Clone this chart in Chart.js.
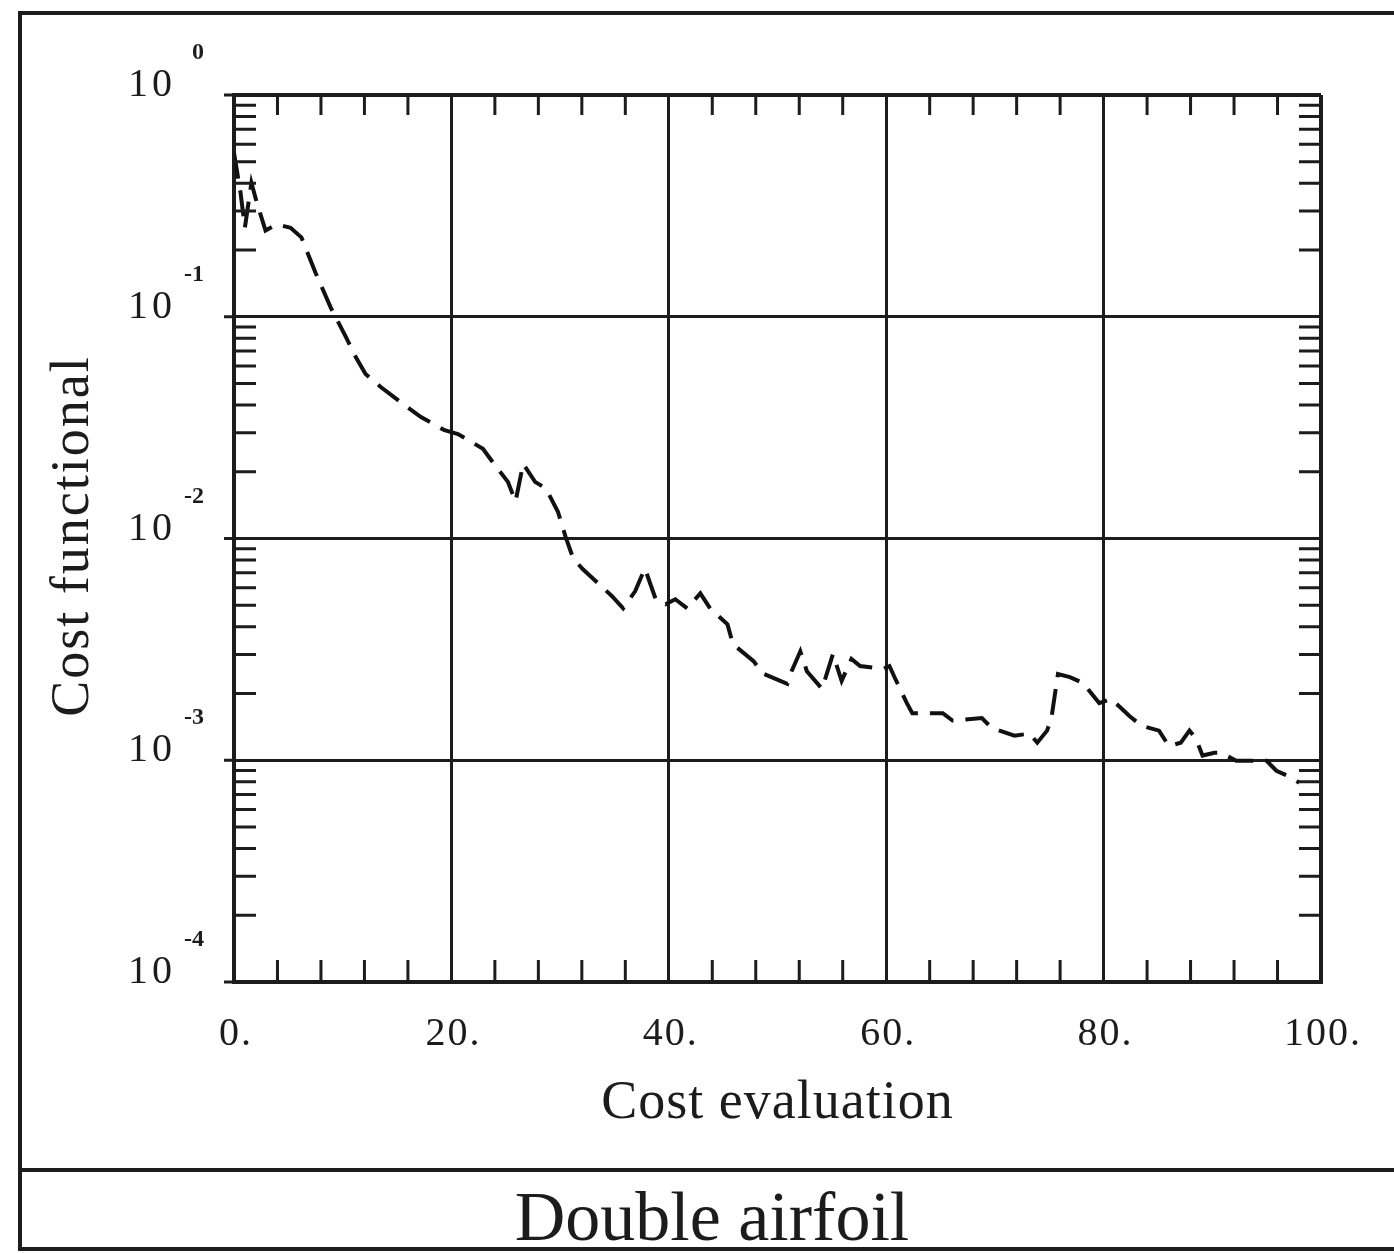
<!DOCTYPE html>
<html>
<head>
<meta charset="utf-8">
<script src="https://cdn.jsdelivr.net/npm/chart.js@4.4.1/dist/chart.umd.min.js"></script>
<style>
  html, body { margin: 0; padding: 0; background: #fff; }
  canvas { display: block; }
</style>
</head>
<body>
<canvas id="costChart" width="1394" height="1253"></canvas>
<script>
// cost evaluation number (x) and cost functional value (y)
const evalX = [0, 0.6, 1.0, 1.6, 2.1, 2.9, 3.9, 5.2, 6.2, 7.5, 8.9, 10.3, 11.2, 12.1, 13.5, 15.3,
  17.2, 19.3, 20.6, 22.9, 24.1, 25.2, 25.9, 26.6, 27.7, 28.7, 29.8, 30.5, 31.2, 32.1, 34.0, 34.8,
  35.8, 36.9, 37.8, 38.8, 39.7, 40.6, 41.7, 42.9, 43.8, 45.4, 45.9, 47.8, 48.6, 50.9, 51.3, 52.1,
  52.7, 54.1, 55.1, 55.9, 56.8, 57.6, 59.7, 60.3, 60.8, 61.9, 62.4, 65.2, 66.1, 68.8, 69.7, 71.8,
  73.2, 73.9, 74.8, 75.2, 75.8, 76.9, 78.1, 79.6, 80.7, 82.4, 83.5, 85.1, 86.0, 87.1, 87.9, 88.5,
  89.1, 90.2, 90.8, 92.2, 95.0, 95.9, 97.1, 98.0];
const costY = [0.548, 0.363, 0.252, 0.402, 0.327, 0.245, 0.261, 0.252, 0.228, 0.158, 0.110, 0.0809,
  0.0658, 0.0552, 0.0482, 0.0413, 0.0353, 0.0309, 0.0296, 0.0254, 0.0211, 0.0180, 0.0147, 0.0217,
  0.0180, 0.0168, 0.0132, 0.0102, 0.00813, 0.00726, 0.00596, 0.00548, 0.00484, 0.00578, 0.00733,
  0.00532, 0.00505, 0.00532, 0.00484, 0.00566, 0.00484, 0.00410, 0.00334, 0.00280, 0.00247,
  0.00221, 0.00252, 0.00310, 0.00252, 0.00210, 0.00301, 0.00228, 0.00286, 0.00266, 0.00258,
  0.00266, 0.00235, 0.00181, 0.00163, 0.00163, 0.00151, 0.00155, 0.00140, 0.00129, 0.00132,
  0.00120, 0.00136, 0.00155, 0.00245, 0.00237, 0.00223, 0.00181, 0.00189, 0.00158, 0.00143,
  0.00136, 0.00116, 0.00120, 0.00136, 0.00125, 0.00105, 0.00108, 0.00108, 0.000995, 0.000995,
  0.000897, 0.000843, 0.000792];

const xTicks = [0, 20, 40, 60, 80, 100];
const xTickLabels = ['0.', '20.', '40.', '60.', '80.', '100.'];
const yExponents = [0, -1, -2, -3, -4];
const xMinorStep = 4;

const xTitle = 'Cost evaluation';
const yTitle = 'Cost functional';
const panelTitle = 'Double airfoil';

const INK = '#1c1c1c';
const SERIF = '"Liberation Serif", "DejaVu Serif", serif';

function isDecade(v) {
  const l = Math.log10(v);
  return Math.abs(l - Math.round(l)) < 1e-6;
}

// frame, inward minor ticks and all the lettering
const paperPlugin = {
  id: 'paper',
  beforeDraw(chart) {
    const ctx = chart.ctx;
    ctx.save();
    ctx.fillStyle = '#fff';
    ctx.fillRect(0, 0, chart.width, chart.height);
    ctx.strokeStyle = INK;
    ctx.lineWidth = 4;
    ctx.beginPath();
    ctx.moveTo(1394, 13); ctx.lineTo(20, 13); ctx.lineTo(20, 1249); ctx.lineTo(1394, 1249);
    ctx.moveTo(20, 1170); ctx.lineTo(1394, 1170);
    ctx.stroke();
    ctx.restore();
  },
  afterDraw(chart) {
    const ctx = chart.ctx;
    const x = chart.scales.x;
    const y = chart.scales.y;
    const area = chart.chartArea;
    ctx.save();
    ctx.strokeStyle = INK;
    ctx.lineWidth = 3;
    ctx.beginPath();
    for (let v = xMinorStep; v < 100; v += xMinorStep) {
      if (v % 20 === 0) continue;
      const px = x.getPixelForValue(v);
      ctx.moveTo(px, area.bottom); ctx.lineTo(px, area.bottom - 22);
      ctx.moveTo(px, area.top); ctx.lineTo(px, area.top + 20);
    }
    for (let k = -4; k < 0; k++) {
      for (let m = 2; m <= 9; m++) {
        const py = y.getPixelForValue(m * Math.pow(10, k));
        ctx.moveTo(area.left, py); ctx.lineTo(area.left + 22, py);
        ctx.moveTo(area.right, py); ctx.lineTo(area.right - 22, py);
      }
    }
    yExponents.forEach(e => {
      const py = y.getPixelForValue(Math.pow(10, e));
      ctx.moveTo(area.left - 10, py); ctx.lineTo(area.left, py);
    });
    ctx.stroke();

    ctx.fillStyle = INK;
    ctx.textBaseline = 'alphabetic';

    // y labels: 10 with a raised exponent
    yExponents.forEach(e => {
      const py = y.getPixelForValue(Math.pow(10, e));
      ctx.font = '40px ' + SERIF;
      ctx.letterSpacing = '4px';
      ctx.textAlign = 'right';
      ctx.fillText('10', 176, py + 1);
      ctx.font = 'bold 24px ' + SERIF;
      ctx.letterSpacing = '0px';
      ctx.fillText(String(e), 204, py - 36);
    });

    // x labels
    ctx.font = '40px ' + SERIF;
    ctx.letterSpacing = '2px';
    ctx.textAlign = 'center';
    xTicks.forEach((v, i) => {
      ctx.fillText(xTickLabels[i], x.getPixelForValue(v) + 2, 1045);
    });

    ctx.font = '54px ' + SERIF;
    ctx.letterSpacing = '1px';
    ctx.fillText(xTitle, (area.left + area.right) / 2, 1118);

    ctx.save();
    ctx.translate(88, 536);
    ctx.rotate(-Math.PI / 2);
    ctx.letterSpacing = '2px';
    ctx.fillText(yTitle, 0, 0);
    ctx.restore();

    ctx.font = '70px ' + SERIF;
    ctx.letterSpacing = '0px';
    ctx.fillText(panelTitle, 712, 1240);
    ctx.restore();
  }
};

const points = evalX.map((v, i) => ({ x: v, y: costY[i] }));

new Chart(document.getElementById('costChart').getContext('2d'), {
  type: 'line',
  data: {
    datasets: [{
      data: points,
      borderColor: '#111',
      borderWidth: 4,
      borderDash: [26, 12],
      pointRadius: 0,
      tension: 0,
      fill: false
    }]
  },
  options: {
    responsive: false,
    animation: false,
    devicePixelRatio: 1,
    layout: { padding: { left: 234, top: 95, right: 73, bottom: 271 } },
    plugins: { legend: { display: false }, tooltip: { enabled: false } },
    scales: {
      x: {
        type: 'linear',
        min: 0,
        max: 100,
        ticks: { display: false, stepSize: 20 },
        grid: {
          color: INK,
          lineWidth: ctx => (ctx.tick && (ctx.tick.value === 0 || ctx.tick.value === 100)) ? 4 : 3,
          drawTicks: false
        },
        border: { color: INK, width: 4 }
      },
      y: {
        type: 'logarithmic',
        min: 1e-4,
        max: 1,
        ticks: { display: false },
        grid: {
          color: ctx => (ctx.tick && isDecade(ctx.tick.value)) ? INK : 'rgba(0,0,0,0)',
          lineWidth: ctx => (ctx.tick && (ctx.tick.value === 1 || ctx.tick.value === 1e-4)) ? 4 : 3,
          drawTicks: false
        },
        border: { color: INK, width: 4 }
      }
    }
  },
  plugins: [paperPlugin]
});
</script>
</body>
</html>
